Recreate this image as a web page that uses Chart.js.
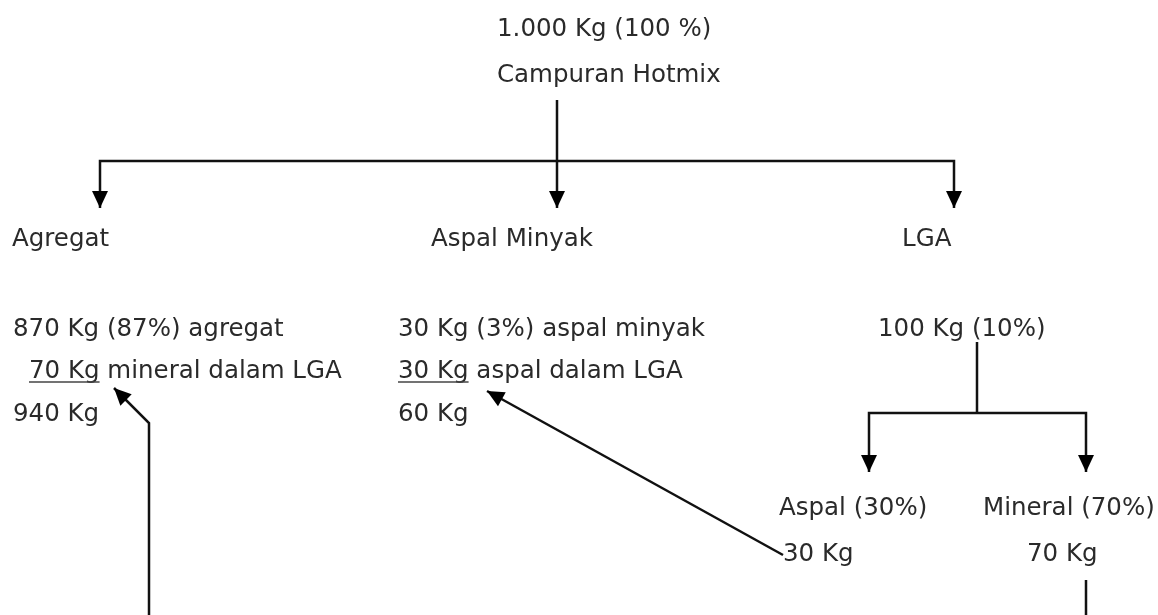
<!DOCTYPE html>
<html>
<head>
<meta charset="utf-8">
<script src="https://cdn.jsdelivr.net/npm/chart.js@4"></script>
<style>
  html, body { margin: 0; padding: 0; background: #ffffff; }
  #wrap { width: 1158px; height: 615px; position: relative; }
</style>
</head>
<body>
<div id="wrap"><canvas id="c"></canvas></div>
<script>
// ---- Data (flow quantities and labels) ----
const totalLabel = ["1.000 Kg (100 %)", "Campuran Hotmix"];
const components = ["Agregat", "Aspal Minyak", "LGA"];
const agregatLines = ["870 Kg (87%) agregat", "70 Kg", " mineral dalam LGA", "940 Kg"];
const aspalLines = ["30 Kg (3%) aspal minyak", "30 Kg", " aspal dalam LGA", "60 Kg"];
const lgaLines = ["100 Kg (10%)"];
const lgaParts = ["Aspal (30%)", "Mineral (70%)"];
const lgaPartValues = ["30 Kg", "70 Kg"];

// ---- Layout (diagram coordinates, in the axis units) ----
const textItems = [
  { t: totalLabel[0], x: 497, y: 36 },
  { t: totalLabel[1], x: 497, y: 82 },
  { t: components[0], x: 12, y: 246 },
  { t: components[1], x: 431, y: 246 },
  { t: components[2], x: 902, y: 246 },
  { t: agregatLines[0], x: 13, y: 336 },
  { t: agregatLines[1], x: 29, y: 378, u: true },
  { t: agregatLines[2], x: 29, y: 378, after: agregatLines[1] },
  { t: agregatLines[3], x: 13, y: 421 },
  { t: aspalLines[0], x: 398, y: 336 },
  { t: aspalLines[1], x: 398, y: 378, u: true },
  { t: aspalLines[2], x: 398, y: 378, after: aspalLines[1] },
  { t: aspalLines[3], x: 398, y: 421 },
  { t: lgaLines[0], x: 878, y: 336 },
  { t: lgaParts[0], x: 779, y: 515 },
  { t: lgaParts[1], x: 983, y: 515 },
  { t: lgaPartValues[0], x: 783, y: 561 },
  { t: lgaPartValues[1], x: 1027, y: 561 }
];

const connectors = [
  { pts: [[557, 100], [557, 208]], arrow: true },
  { pts: [[100, 208], [100, 161], [954, 161], [954, 208]], arrow: true, arrowStart: true },
  { pts: [[977, 342], [977, 413]] },
  { pts: [[869, 472], [869, 413], [1086, 413], [1086, 472]], arrow: true, arrowStart: true },
  { pts: [[783, 555], [487, 391]], arrow: true },
  { pts: [[149, 615], [149, 423], [114, 388]], arrow: true },
  { pts: [[1086, 580], [1086, 615]] }
];

const datasets = connectors.map(c => ({
  data: c.pts.map(p => ({ x: p[0], y: p[1] })),
  showLine: true,
  borderColor: '#111111',
  borderWidth: 2.5,
  pointRadius: 0,
  tension: 0,
  fill: false,
  arrow: !!c.arrow,
  arrowStart: !!c.arrowStart
}));

const FONT = '24.5px "DejaVu Sans", Verdana, sans-serif';

const arrowPlugin = {
  id: 'arrows',
  afterDatasetsDraw(chart) {
    const ctx = chart.ctx;
    ctx.save();
    ctx.fillStyle = '#000000';
    chart.data.datasets.forEach((ds, i) => {
      const meta = chart.getDatasetMeta(i);
      const pts = meta.data;
      const draw = (tip, from) => {
        const ang = Math.atan2(tip.y - from.y, tip.x - from.x);
        const L = 17, W = 8;
        ctx.beginPath();
        ctx.moveTo(tip.x, tip.y);
        ctx.lineTo(tip.x - L * Math.cos(ang) + W * Math.sin(ang), tip.y - L * Math.sin(ang) - W * Math.cos(ang));
        ctx.lineTo(tip.x - L * Math.cos(ang) - W * Math.sin(ang), tip.y - L * Math.sin(ang) + W * Math.cos(ang));
        ctx.closePath();
        ctx.fill();
      };
      if (ds.arrow) draw(pts[pts.length - 1], pts[pts.length - 2]);
      if (ds.arrowStart) draw(pts[0], pts[1]);
    });
    ctx.restore();
  }
};

const textPlugin = {
  id: 'texts',
  afterDraw(chart) {
    const ctx = chart.ctx;
    const xs = chart.scales.x, ys = chart.scales.y;
    ctx.save();
    ctx.font = FONT;
    ctx.fillStyle = '#2a2a2a';
    ctx.textBaseline = 'alphabetic';
    ctx.textAlign = 'left';
    textItems.forEach(it => {
      let px = xs.getPixelForValue(it.x);
      const py = ys.getPixelForValue(it.y);
      if (it.after) px += ctx.measureText(it.after).width;
      ctx.fillText(it.t, px, py);
      if (it.u) {
        const w = ctx.measureText(it.t).width;
        ctx.strokeStyle = '#444444';
        ctx.lineWidth = 1.5;
        ctx.beginPath();
        ctx.moveTo(px, py + 4);
        ctx.lineTo(px + w, py + 4);
        ctx.stroke();
      }
    });
    ctx.restore();
  }
};

new Chart(document.getElementById('c'), {
  type: 'scatter',
  data: { datasets },
  options: {
    responsive: true,
    maintainAspectRatio: false,
    animation: false,
    layout: { padding: 0 },
    plugins: { legend: { display: false }, tooltip: { enabled: false } },
    scales: {
      x: { type: 'linear', min: 0, max: 1158, display: false },
      y: { type: 'linear', min: 0, max: 615, reverse: true, display: false }
    }
  },
  plugins: [arrowPlugin, textPlugin]
});
</script>
</body>
</html>
